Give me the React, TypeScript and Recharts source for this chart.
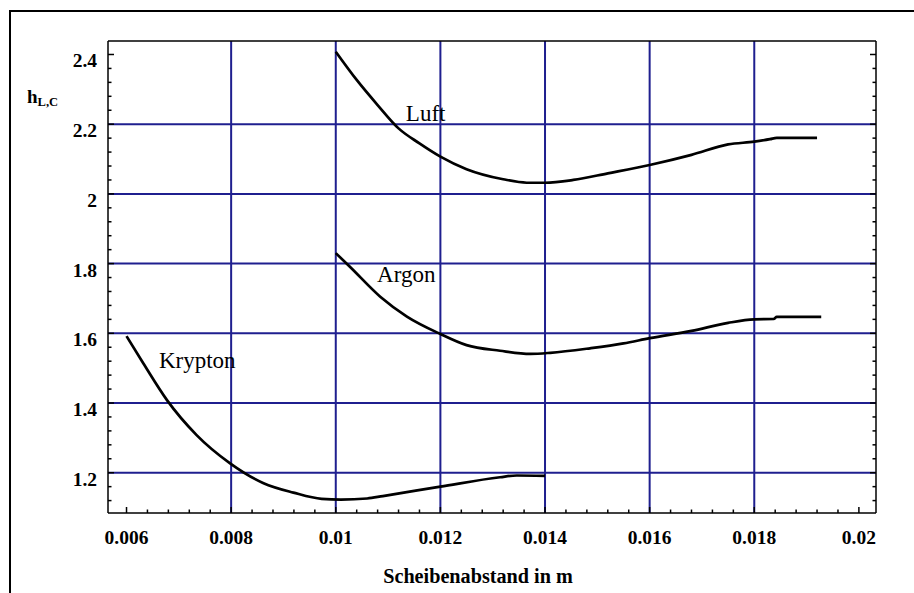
import {
  LineChart,
  Line,
  XAxis,
  YAxis,
  CartesianGrid,
  ReferenceDot,
  Label,
} from "recharts";

// tick positions (minor every 0.0004 / 0.04, labels on the majors)
const xTicks = [
  0.006, 0.0064, 0.0068, 0.0072, 0.0076, 0.008, 0.0084, 0.0088, 0.0092, 0.0096,
  0.01, 0.0104, 0.0108, 0.0112, 0.0116, 0.012, 0.0124, 0.0128, 0.0132, 0.0136,
  0.014, 0.0144, 0.0148, 0.0152, 0.0156, 0.016, 0.0164, 0.0168, 0.0172, 0.0176,
  0.018, 0.0184, 0.0188, 0.0192, 0.0196, 0.02,
];
const xLabels = [0.006, 0.008, 0.01, 0.012, 0.014, 0.016, 0.018, 0.02];
const xGrid = [0.008, 0.01, 0.012, 0.014, 0.016, 0.018];

const yTicks = [
  1.12, 1.16, 1.2, 1.24, 1.28, 1.32, 1.36, 1.4, 1.44, 1.48, 1.52, 1.56, 1.6,
  1.64, 1.68, 1.72, 1.76, 1.8, 1.84, 1.88, 1.92, 1.96, 2, 2.04, 2.08, 2.12,
  2.16, 2.2, 2.24, 2.28, 2.32, 2.36, 2.4,
];
const yLabels = [1.2, 1.4, 1.6, 1.8, 2, 2.2, 2.4];
const yGrid = [1.2, 1.4, 1.6, 1.8, 2, 2.2];

// h_L,C over Scheibenabstand (m)
const luft = [
  { d: 0.01, h: 2.408 },
  { d: 0.0104, h: 2.327 },
  { d: 0.0108, h: 2.255 },
  { d: 0.0112, h: 2.188 },
  { d: 0.0116, h: 2.145 },
  { d: 0.012, h: 2.107 },
  { d: 0.0125, h: 2.071 },
  { d: 0.0132, h: 2.042 },
  { d: 0.01365, h: 2.032 },
  { d: 0.014, h: 2.032 },
  { d: 0.01454, h: 2.04 },
  { d: 0.0152, h: 2.059 },
  { d: 0.016, h: 2.083 },
  { d: 0.0168, h: 2.112 },
  { d: 0.0175, h: 2.142 },
  { d: 0.018, h: 2.15 },
  { d: 0.0183, h: 2.157 },
  { d: 0.01843, h: 2.161 },
  { d: 0.0192, h: 2.161 },
];

const argon = [
  { d: 0.01, h: 1.83 },
  { d: 0.01027, h: 1.791 },
  { d: 0.01085, h: 1.705 },
  { d: 0.01136, h: 1.648 },
  { d: 0.012, h: 1.598 },
  { d: 0.0125, h: 1.566 },
  { d: 0.01314, h: 1.55 },
  { d: 0.01372, h: 1.541 },
  { d: 0.0141, h: 1.544 },
  { d: 0.01486, h: 1.557 },
  { d: 0.0155, h: 1.571 },
  { d: 0.016, h: 1.586 },
  { d: 0.0168, h: 1.607 },
  { d: 0.0175, h: 1.63 },
  { d: 0.018, h: 1.64 },
  { d: 0.01837, h: 1.641 },
  { d: 0.01843, h: 1.647 },
  { d: 0.01928, h: 1.647 },
];

const krypton = [
  { d: 0.006, h: 1.592 },
  { d: 0.00632, h: 1.514 },
  { d: 0.00677, h: 1.409 },
  { d: 0.00734, h: 1.308 },
  { d: 0.00798, h: 1.227 },
  { d: 0.00862, h: 1.17 },
  { d: 0.00919, h: 1.143 },
  { d: 0.00973, h: 1.125 },
  { d: 0.0101, h: 1.123 },
  { d: 0.0106, h: 1.126 },
  { d: 0.0109, h: 1.133 },
  { d: 0.012, h: 1.16 },
  { d: 0.01314, h: 1.187 },
  { d: 0.01346, h: 1.192 },
  { d: 0.014, h: 1.191 },
];

const curveLabels = [
  { name: "Luft", d: 0.01134, h: 2.209 },
  { name: "Argon", d: 0.01079, h: 1.748 },
  { name: "Krypton", d: 0.00662, h: 1.5 },
];

const FONT = "Liberation Serif";
const GRID = "#1f1f8f";
const MAJOR = 6;
const MINOR = 3.5;

const isMajor = (v: number, majors: number[]) =>
  majors.some((m) => Math.abs(m - v) < 1e-9);

const BottomTick = (props: any) => {
  const { x, y, payload } = props;
  const major = isMajor(payload.value, xLabels);
  return (
    <g>
      <line x1={x} y1={y} x2={x} y2={y - (major ? MAJOR : MINOR)} stroke="#000" strokeWidth={1.5} />
      {major && (
        <text x={x} y={y + 31} textAnchor="middle" fontFamily={FONT} fontWeight="bold" fontSize={19.5} fill="#000">
          {String(payload.value)}
        </text>
      )}
    </g>
  );
};

const TopTick = (props: any) => {
  const { x, y, payload } = props;
  const major = isMajor(payload.value, xLabels);
  return <line x1={x} y1={y} x2={x} y2={y + (major ? MAJOR : MINOR)} stroke="#000" strokeWidth={1.5} />;
};

const LeftTick = (props: any) => {
  const { x, y, payload } = props;
  const major = isMajor(payload.value, yLabels);
  return (
    <g>
      <line x1={x} y1={y} x2={x + (major ? MAJOR : MINOR)} y2={y} stroke="#000" strokeWidth={1.5} />
      {major && (
        <text x={x - 11} y={y + 13} textAnchor="end" fontFamily={FONT} fontWeight="bold" fontSize={19.5} fill="#000">
          {String(payload.value)}
        </text>
      )}
    </g>
  );
};

const RightTick = (props: any) => {
  const { x, y, payload } = props;
  const major = isMajor(payload.value, yLabels);
  return <line x1={x} y1={y} x2={x - (major ? MAJOR : MINOR)} y2={y} stroke="#000" strokeWidth={1.5} />;
};

const CurveName = (props: any) => {
  const { viewBox, value } = props;
  return (
    <text x={viewBox.x} y={viewBox.y} fontFamily={FONT} fontSize={23} fill="#000">
      {value}
    </text>
  );
};

const X_DOMAIN = [0.005646, 0.020327];
const Y_DOMAIN = [1.0844, 2.4387];

export default function App() {
  return (
    <div style={{ position: "absolute", left: 0, top: 0, width: 914, height: 593, background: "#fff" }}>
      <div
        style={{
          position: "absolute",
          left: 9,
          top: 10,
          width: 905,
          height: 583,
          borderTop: "2px solid #000",
          borderLeft: "2px solid #000",
        }}
      />
      <div style={{ position: "absolute", left: 0, top: 0 }}>
        <LineChart width={914} height={593} margin={{ top: 0, right: 0, bottom: 0, left: 0 }}>
          <CartesianGrid
            horizontalValues={yGrid}
            verticalValues={xGrid}
            stroke={GRID}
            strokeWidth={2}
          />
          <XAxis
            dataKey="d"
            type="number"
            domain={X_DOMAIN}
            allowDataOverflow
            ticks={xTicks}
            interval={0}
            height={80}
            tickSize={0}
            tickMargin={0}
            tick={<BottomTick />}
            axisLine={{ stroke: "#000", strokeWidth: 1.5 }}
          >
            <Label
              content={(p: any) => (
                <text
                  x={p.viewBox.x + p.viewBox.width / 2 - 14}
                  y={p.viewBox.y + 70}
                  textAnchor="middle"
                  fontFamily={FONT}
                  fontWeight="bold"
                  fontSize={20.2}
                  fill="#000"
                >
                  Scheibenabstand in m
                </text>
              )}
            />
          </XAxis>
          <XAxis
            xAxisId="top"
            orientation="top"
            type="number"
            domain={X_DOMAIN}
            allowDataOverflow
            ticks={xTicks}
            interval={0}
            height={41}
            tickSize={0}
            tickMargin={0}
            tick={<TopTick />}
            axisLine={{ stroke: "#000", strokeWidth: 1.5 }}
          />
          <YAxis
            type="number"
            domain={Y_DOMAIN}
            allowDataOverflow
            ticks={yTicks}
            interval={0}
            width={108}
            tickSize={0}
            tickMargin={0}
            tick={<LeftTick />}
            axisLine={{ stroke: "#000", strokeWidth: 1.5 }}
          >
            <Label
              content={(p: any) => (
                <text x={p.viewBox.x + 27} y={p.viewBox.y + 62} fontFamily={FONT} fontWeight="bold" fill="#000">
                  <tspan fontSize={19}>h</tspan>
                  <tspan fontSize={12.5} dy={3}>L,C</tspan>
                </text>
              )}
            />
          </YAxis>
          <YAxis
            yAxisId="right"
            orientation="right"
            type="number"
            domain={Y_DOMAIN}
            allowDataOverflow
            ticks={yTicks}
            interval={0}
            width={38}
            tickSize={0}
            tickMargin={0}
            tick={<RightTick />}
            axisLine={{ stroke: "#000", strokeWidth: 1.5 }}
          />
          <Line data={luft} dataKey="h" type="monotone" stroke="#000" strokeWidth={2.7} dot={false} isAnimationActive={false} />
          <Line data={argon} dataKey="h" type="monotone" stroke="#000" strokeWidth={2.7} dot={false} isAnimationActive={false} />
          <Line data={krypton} dataKey="h" type="monotone" stroke="#000" strokeWidth={2.7} dot={false} isAnimationActive={false} />
          {curveLabels.map((c) => (
            <ReferenceDot
              key={c.name}
              x={c.d}
              y={c.h}
              r={0}
              fill="none"
              stroke="none"
              ifOverflow="visible"
              label={<CurveName value={c.name} />}
            />
          ))}
        </LineChart>
      </div>
    </div>
  );
}
